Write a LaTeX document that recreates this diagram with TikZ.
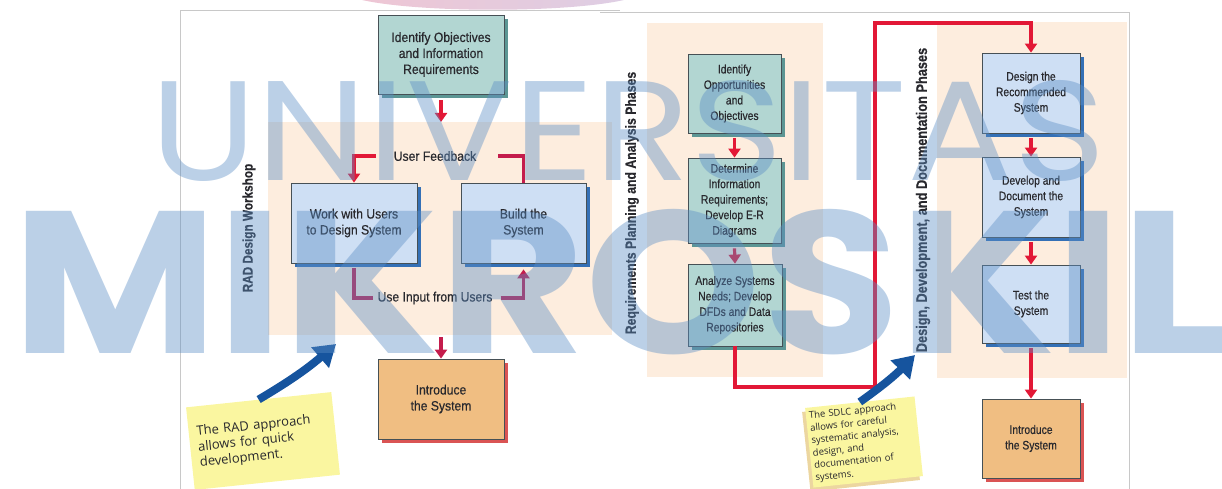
\documentclass[tikz,border=0pt]{standalone}
\usepackage{graphicx}
\usepackage{fontspec}
\setmainfont{Liberation Sans}
\newfontfamily\wideface{Liberation Sans}[FakeStretch=0.9,FakeBold=0.5]
\newfontfamily\cnface{Liberation Sans}[FakeStretch=0.84,FakeBold=0.5]
\newfontfamily\noteface{Open Sans}
\newfontfamily\markface{Poppins}
\usetikzlibrary{arrows.meta,shadows}
\definecolor{FlowClr}{RGB}{226,24,54}
\definecolor{LoopClr}{RGB}{196,28,76}
\definecolor{TealClr}{RGB}{178,214,210}
\definecolor{TealShd}{RGB}{92,150,148}
\definecolor{BlueClr}{RGB}{206,223,244}
\definecolor{BlueShd}{RGB}{52,112,182}
\definecolor{IntroClr}{RGB}{240,190,130}
\definecolor{IntroShd}{RGB}{218,84,84}
\definecolor{PhaseClr}{RGB}{253,237,222}
\definecolor{NoteClr}{RGB}{250,246,160}
\definecolor{NoteShd}{RGB}{236,214,160}
\definecolor{PointerClr}{RGB}{22,84,158}
\definecolor{FrameClr}{RGB}{200,200,200}
\definecolor{BoxLine}{RGB}{70,80,85}
\definecolor{TextClr}{RGB}{40,40,45}
\definecolor{MarkClr}{RGB}{92,142,197}
\definecolor{PinkClr}{RGB}{238,198,212}
\definecolor{LilacClr}{RGB}{222,206,228}

\tikzset{
  box/.style={draw=BoxLine,line width=0.8pt,align=center,inner sep=2pt,text=TextClr},
  tealbox/.style={box,fill=TealClr,general shadow={fill=TealShd,shadow xshift=4pt,shadow yshift=-4pt}},
  bluebox/.style={box,fill=BlueClr,general shadow={fill=BlueShd,shadow xshift=4pt,shadow yshift=-4pt}},
  introbox/.style={box,fill=IntroClr,general shadow={fill=IntroShd,shadow xshift=4pt,shadow yshift=-4pt}},
  bigtxt/.style={font=\wideface\fontsize{13.5}{16}\selectfont},
  smalltxt/.style={font=\cnface\fontsize{12.3}{15.5}\selectfont},
  lbl/.style={inner sep=0pt,text=TextClr,font=\wideface\fontsize{13.5}{16}\selectfont},
  phase/.style={inner sep=0pt,rotate=90,text=TextClr,font=\cnface\bfseries\fontsize{14}{16}\selectfont},
  redflow/.style={draw=FlowClr,line width=3.2pt,-{Triangle[width=12pt,length=9pt]}},
  backflow/.style={draw=LoopClr,line width=3.2pt},
  pointer/.style={draw=PointerClr,line width=8pt,-{Triangle[width=26pt,length=21pt]}},
  note/.style={fill=NoteClr,align=left,text=TextClr},
  wmark/.style={inner sep=0pt,anchor=north west,text=MarkClr,text opacity=0.42}
}

\begin{document}
\begin{tikzpicture}[x=1pt,y=-1pt]
\useasboundingbox (0,0) rectangle (1222,489);

% page frame and the backdrops of the workshop / phases
\shade[left color=PinkClr,right color=LilacClr] (362,0) .. controls (420,13) and (566,13) .. (624,0) -- cycle;
\draw[FrameClr,line width=0.8pt] (180,489) -- (180,10.5) -- (620,10.5);
\draw[FrameClr,line width=0.8pt] (600,12.5) -- (1129,12.5) -- (1129,489);
\fill[PhaseClr] (268,122) rectangle (612,335);
\fill[PhaseClr] (647,23) rectangle (823,377);
\fill[PhaseClr] (937,22) rectangle (1127,378);

% RAD
\node[phase] (radL) at (249,228) {RAD Design Workshop};
\node[tealbox,bigtxt,minimum width=126pt,minimum height=79pt] (objL) at (441,54.5) {Identify Objectives\\and Information\\Requirements};
\node[bluebox,bigtxt,minimum width=126pt,minimum height=80pt] (workL) at (354,223) {Work with Users\\to Design System};
\node[bluebox,bigtxt,minimum width=125pt,minimum height=80pt] (buildL) at (523.5,223) {Build the\\System};
\node[introbox,bigtxt,minimum width=126pt,minimum height=80pt] (introL) at (441,399) {Introduce\\the System};
\node[lbl] (feedL) at (435,156) {User Feedback};
\node[lbl] (inputL) at (435,298) {Use Input from Users};
\coordinate (wsTop) at (441,122);
\coordinate (wsBot) at (441,337);

\draw[redflow] ([yshift=-6pt]objL.south) -- (wsTop);
\draw[redflow] ([xshift=-18pt]feedL.west) -| (workL.north);
\draw[backflow] ([xshift=22pt]feedL.east) -| (buildL.north);
\draw[backflow] ([yshift=-5pt]workL.south) |- ([xshift=-4pt]inputL.west);
\draw[backflow,-{Triangle[width=12pt,length=9pt]}] ([xshift=8pt]inputL.east) -| ([yshift=-6pt]buildL.south);
\draw[redflow,draw=LoopClr] (wsBot) -- (introL.north);

% SDLC
\node[phase,font=\cnface\bfseries\fontsize{14.6}{16}\selectfont] (reqM) at (632,203) {Requirements Planning and Analysis Phases};
\node[tealbox,smalltxt,minimum width=93pt,minimum height=79pt] (oppM) at (734.5,93.5) {Identify\\Opportunities\\and\\Objectives};
\node[tealbox,smalltxt,minimum width=93pt,minimum height=85pt] (detM) at (734.5,200.5) {Determine\\Information\\Requirements;\\Develop E-R\\Diagrams};
\node[tealbox,smalltxt,minimum width=94pt,minimum height=82pt] (anaM) at (735,305) {Analyze Systems\\Needs; Develop\\DFDs and Data\\Repositories};

\node[phase,font=\cnface\bfseries\fontsize{15.2}{16}\selectfont] (desR) at (923,200) {Design, Development, and Documentation Phases};
\node[bluebox,smalltxt,minimum width=98pt,minimum height=80pt] (dsgR) at (1031,93) {Design the\\Recommended\\System};
\node[bluebox,smalltxt,minimum width=98pt,minimum height=80pt] (devR) at (1031,197) {Develop and\\Document the\\System};
\node[bluebox,smalltxt,minimum width=98pt,minimum height=78pt] (tstR) at (1031,304) {Test the\\System};
\node[introbox,smalltxt,minimum width=98pt,minimum height=79pt] (intR) at (1031,438.5) {Introduce\\the System};
\coordinate (sdlcA) at (875,387);
\coordinate (sdlcB) at (875,23);

\draw[redflow] ([yshift=-5pt]oppM.south) -- (detM.north);
\draw[redflow] ([yshift=-5pt]detM.south) -- (anaM.north);
\draw[redflow] (anaM.south) |- (sdlcA) -- (sdlcB) -| (dsgR.north);
\draw[redflow] ([yshift=-5pt]dsgR.south) -- (devR.north);
\draw[redflow] ([yshift=-5pt]devR.south) -- (tstR.north);
\draw[redflow] ([yshift=-5pt]tstR.south) -- (intR.north);

% sticky notes with their pointers
\node[note,rotate=6,minimum width=146pt,minimum height=83pt,inner sep=8pt,text width=130pt,
  font=\noteface\fontsize{13}{15.5}\selectfont] (noteL) at (263,441) {The RAD approach\\allows for quick\\development.};
\node[note,rotate=6,minimum width=110pt,minimum height=80pt,inner sep=3pt,text width=104pt,
  font=\noteface\fontsize{9.5}{12.5}\selectfont,
  general shadow={fill=NoteShd,shadow xshift=-3pt,shadow yshift=-4pt}] (noteS) at (864,442)
  {The SDLC approach\\allows for careful\\systematic analysis,\\design, and\\documentation of\\systems.};
\coordinate (ptrL) at (336,344);
\coordinate (ptrS) at (915,355);
\draw[pointer] (noteL.north) to[bend right=5] (ptrL);
\draw[pointer] (noteS.north) to[bend right=5] (ptrS);

% lettering over the top
\node[wmark] (uniW) at (150,80) {\resizebox{955pt}{100pt}{\markface UNIVERSITAS}};
\node[wmark] (mikW) at (12,209) {\resizebox{1215pt}{144pt}{\markface\bfseries MIKROSKIL}};
\end{tikzpicture}
\end{document}
